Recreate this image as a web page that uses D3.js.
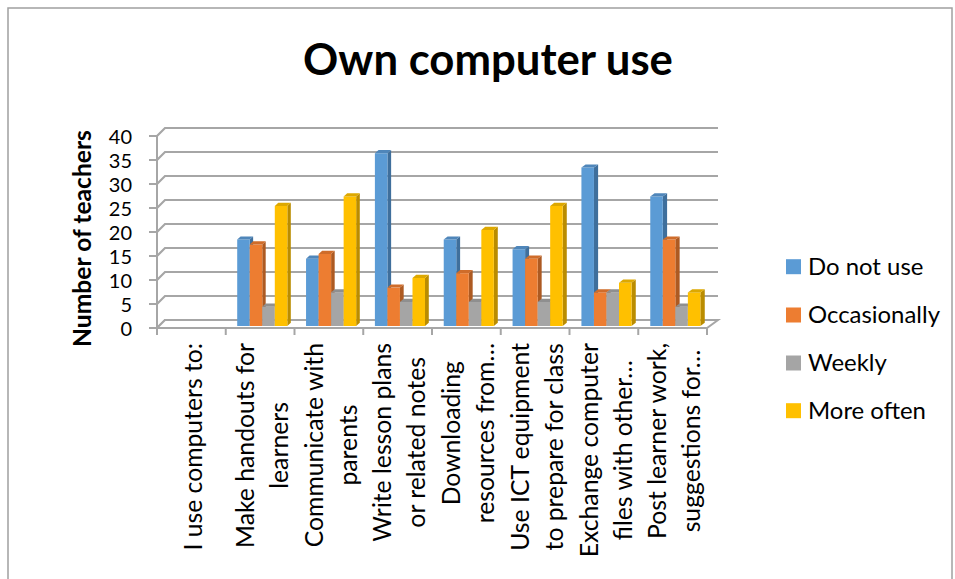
<!DOCTYPE html>
<html><head><meta charset="utf-8">
<script src="https://cdn.jsdelivr.net/npm/d3@7"></script>
<style>body{margin:0;background:#fff;}svg{display:block;}</style>
</head><body>
<svg id="c" width="955" height="579"></svg>
<script>
// ---- data ----
const categoryLines = [
  ["I use computers to:"],
  ["Make handouts for", "learners"],
  ["Communicate with", "parents"],
  ["Write lesson plans", "or related notes"],
  ["Downloading", "resources from…"],
  ["Use ICT equipment", "to prepare for class"],
  ["Exchange computer", "files with other…"],
  ["Post learner work,", "suggestions for…"]
];
const seriesNames = ["Do not use", "Occasionally", "Weekly", "More often"];
const doNotUse     = [null, 18, 14, 36, 18, 16, 33, 27];
const occasionally = [null, 17, 15,  8, 11, 14,  7, 18];
const weekly       = [null,  4,  7,  5,  5,  5,  7,  4];
const moreOften    = [null, 25, 27, 10, 20, 25,  9,  7];
const yTicks = [0, 5, 10, 15, 20, 25, 30, 35, 40];
const titleText = "Own computer use";
const yTitleText = "Number of teachers";

const seriesValues = [doNotUse, occasionally, weekly, moreOften];
const fills  = ["#5B9BD5", "#ED7D31", "#A5A5A5", "#FFC000"];
const sides  = ["#3F6F9C", "#AD5A22", "#787878", "#BA8C00"];
const tops   = ["#4F86BA", "#CF6C2A", "#8F8F8F", "#DDA800"];

const svg = d3.select("#c");
const FONT = "Lato, 'Open Sans', sans-serif";

function fitSize(text, weight, target) {
  const t = svg.append("text").attr("font-family", FONT).attr("font-weight", weight)
    .attr("font-size", 100).text(text);
  const w = t.node().getComputedTextLength();
  t.remove();
  return 100 * target / w;
}

// border
svg.append("rect").attr("x", 8).attr("y", 8).attr("width", 944).attr("height", 620)
  .attr("fill", "none").attr("stroke", "#a0a0a0").attr("stroke-width", 1.5);

// scales
const X0 = 157, X1 = 707;
const x = d3.scaleBand().domain(d3.range(categoryLines.length)).range([X0, X1]).padding(0);
const bw = x.bandwidth();
const xs = d3.scaleBand().domain(d3.range(seriesNames.length)).range([bw * 0.136, bw * 0.864]).padding(0);
const y = d3.scaleLinear().domain([0, 40]).range([328, 136]);

function P(px, py, d) {
  return [px + d * (8 + 3 * (px - X0) / (X1 - X0)), py - 8 * d];
}
const poly = pts => pts.map(p => p.join(",")).join(" ");

const grid = svg.append("g");
yTicks.forEach(t => {
  const yy = y(t);
  const a = [X0, yy], b = P(X0, yy, 1), c = P(X1, yy, 1);
  grid.append("polyline").attr("points", poly([a, b, c]))
    .attr("fill", "none").attr("stroke", "#a6a6a6").attr("stroke-width", 2.2);
});
const fl = [[X0, y(0)], [X1, y(0)], P(X1, y(0), 1), P(X0, y(0), 1)];
grid.append("polygon").attr("points", poly(fl)).attr("fill", "#fff")
  .attr("stroke", "#a6a6a6").attr("stroke-width", 2);

// bars
const D0 = 0.25, D1 = 0.65;
const bars = svg.append("g");
categoryLines.forEach((_, ci) => {
  seriesValues.forEach((vals, si) => {
    const v = vals[ci];
    if (v == null) return;
    const x0 = x(ci) + xs(si), x1 = x0 + xs.bandwidth();
    const yb = y(0), yt = y(v);
    const front = [P(x0, yb, D0), P(x1, yb, D0), P(x1, yt, D0), P(x0, yt, D0)];
    const side = [P(x1, yb, D0), P(x1, yb, D1), P(x1, yt, D1), P(x1, yt, D0)];
    const top = [P(x0, yt, D0), P(x1, yt, D0), P(x1, yt, D1), P(x0, yt, D1)];
    bars.append("polygon").attr("points", poly(side)).attr("fill", sides[si]);
    bars.append("polygon").attr("points", poly(front)).attr("fill", fills[si]);
    bars.append("polygon").attr("points", poly(top)).attr("fill", tops[si]);
  });
});

// front axes
const ax = svg.append("g").attr("stroke", "#a6a6a6").attr("stroke-width", 2);
ax.append("line").attr("x1", X0).attr("x2", X0).attr("y1", y(40)).attr("y2", y(0));
yTicks.forEach(t => {
  ax.append("line").attr("x1", X0 - 8).attr("x2", X0).attr("y1", y(t)).attr("y2", y(t));
});
ax.append("line").attr("x1", X0).attr("x2", X1).attr("y1", y(0)).attr("y2", y(0));
d3.range(categoryLines.length + 1).forEach(i => {
  const xx = X0 + i * bw;
  ax.append("line").attr("x1", xx).attr("x2", xx).attr("y1", y(0)).attr("y2", y(0) + 7);
});

// y tick labels
const tickSize = 20;
yTicks.forEach(t => {
  svg.append("text").attr("x", 132).attr("y", y(t) + 8)
    .attr("text-anchor", "end").attr("font-family", FONT).attr("font-size", tickSize)
    .attr("fill", "#000").text(t);
});

// y title
const ytSize = fitSize(yTitleText, 700, 217);
svg.append("text").attr("transform", "translate(91,238.5) rotate(-90)")
  .attr("text-anchor", "middle").attr("font-family", FONT).attr("font-weight", 700)
  .attr("font-size", ytSize).text(yTitleText);

// title
const tSize = fitSize(titleText, 700, 370);
svg.append("text").attr("x", 488).attr("y", 75).attr("text-anchor", "middle")
  .attr("font-family", FONT).attr("font-weight", 700).attr("font-size", tSize).text(titleText);

// category labels
const catSize = fitSize("Make handouts for", 400, 205);
const lineGap = 34;
categoryLines.forEach((lines, ci) => {
  const cx = x(ci) + bw / 2 + 2;
  const g = svg.append("g").attr("transform", `translate(${cx},343) rotate(-90)`)
    .attr("font-family", FONT).attr("font-size", catSize).attr("fill", "#000");
  const widths = lines.map(l => {
    const t = g.append("text").text(l);
    const w = t.node().getComputedTextLength();
    t.remove();
    return w;
  });
  const blockW = d3.max(widths);
  lines.forEach((l, li) => {
    const off = (li - (lines.length - 1) / 2) * lineGap;
    g.append("text").attr("x", -blockW / 2).attr("y", off)
      .attr("dy", "0.35em").attr("text-anchor", "middle").text(l);
  });
});

// legend
const legSize = fitSize("Occasionally", 400, 132);
const legY = [266.7, 315, 363, 410.7];
seriesNames.forEach((n, i) => {
  svg.append("rect").attr("x", 786).attr("y", legY[i] - 7.5).attr("width", 15).attr("height", 15)
    .attr("fill", fills[i]);
  svg.append("text").attr("x", 808).attr("y", legY[i]).attr("dy", "0.35em")
    .attr("font-family", FONT).attr("font-size", legSize).text(n);
});
</script>
</body></html>
